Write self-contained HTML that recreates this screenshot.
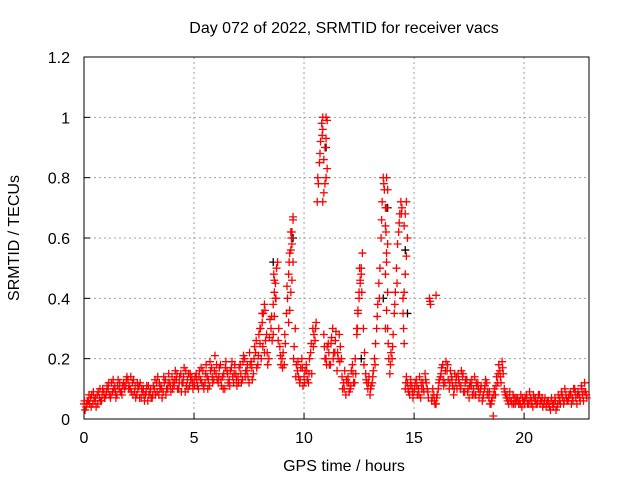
<!DOCTYPE html>
<html><head><meta charset="utf-8"><style>
body{margin:0;background:#fff}
svg{display:block;font-family:"Liberation Sans",sans-serif}
</style></head><body>
<svg id="chart" width="640" height="480">
<text x="344" y="33" font-size="16" text-anchor="middle">Day 072 of 2022, SRMTID for receiver vacs</text>
<g id="grid"></g>
<g id="axes"></g>
<g id="marks"></g>
<text x="344" y="471" font-size="16" text-anchor="middle">GPS time / hours</text>
<text transform="translate(19,238) rotate(-90)" font-size="16" text-anchor="middle">SRMTID / TECUs</text>
</svg>
<script>
const xTicks=[0,5,10,15,20];
const yTicks=[0,0.2,0.4,0.6,0.8,1,1.2];
const yTickLabels=["0","0.2","0.4","0.6","0.8","1","1.2"];
const sampleStep=0.1;
const valuesA=[0.05,0.04,0.06,0.07,0.05,0.06,0.08,0.07,0.06,0.09,
0.08,0.10,0.07,0.09,0.11,0.08,0.10,0.09,0.12,0.11,
0.13,0.10,0.12,0.09,0.08,0.11,0.07,0.10,0.08,0.06,
0.09,0.07,0.10,0.12,0.08,0.11,0.09,0.13,0.10,0.12,
0.14,0.11,0.13,0.10,0.15,0.12,0.09,0.13,0.11,0.14,
0.12,0.15,0.10,0.13,0.16,0.12,0.14,0.11,0.17,0.13,
0.15,0.12,0.18,0.14,0.10,0.16,0.13,0.17,0.12,0.15,
0.14,0.18,0.13,0.20,0.16,0.12,0.19,0.15,0.22,0.18,
0.25,0.32,0.22,0.28,0.20,0.30,0.38,0.45,0.52,0.24,
0.20,0.18,0.35,0.48,0.62,0.66,0.30,0.16,0.12,0.20,
0.14,0.18,0.12,0.22,0.30,0.26,0.72,0.85,0.98,0.28,
0.20,0.25,0.18,0.30,0.22,0.16,0.28,0.20,0.12,0.08,
0.14,0.10,0.18,0.12,0.28,0.40,0.48,0.30,0.15,0.10,
0.08,0.12,0.20,0.30,0.45,0.60,0.80,0.70,0.30,0.15,
0.20,0.35,0.50,0.62,0.72,0.40,0.10,0.12,0.08,0.11,
0.09,0.13,0.10,0.07,0.12,0.15,0.10,0.40,0.06,0.08,
0.05,0.10,0.14,0.18,0.12,0.16,0.10,0.14,0.08,0.12,
0.15,0.10,0.14,0.09,0.13,0.07,0.11,0.10,0.08,0.12,
0.09,0.06,0.10,0.12,0.07,0.05,0.01,0.08,0.12,0.16,
0.19,0.10,0.07,0.05,0.06,0.08,0.05,0.07,0.06,0.04,
0.06,0.08,0.05,0.07,0.04,0.06,0.05,0.08,0.06,0.05,
0.04,0.06,0.03,0.05,0.07,0.04,0.06,0.09,0.05,0.08,
0.06,0.09,0.07,0.10,0.05,0.08,0.11,0.06,0.09];
const valuesB=[0.03,0.06,0.05,0.08,0.07,0.04,0.09,0.06,0.10,0.07,
0.11,0.08,0.12,0.10,0.07,0.13,0.09,0.11,0.10,0.14,
0.11,0.09,0.13,0.07,0.10,0.12,0.09,0.06,0.11,0.08,
0.07,0.11,0.08,0.14,0.10,0.07,0.12,0.10,0.15,0.09,
0.12,0.16,0.10,0.14,0.12,0.17,0.11,0.15,0.13,0.10,
0.14,0.11,0.16,0.12,0.10,0.18,0.13,0.16,0.12,0.21,
0.13,0.17,0.11,0.15,0.19,0.12,0.16,0.14,0.18,0.11,
0.17,0.12,0.21,0.16,0.14,0.18,0.13,0.24,0.17,0.28,
0.20,0.35,0.26,0.18,0.33,0.26,0.42,0.50,0.30,0.18,
0.22,0.25,0.40,0.55,0.58,0.24,0.18,0.14,0.17,0.11,
0.16,0.13,0.20,0.15,0.28,0.32,0.78,0.92,1.00,0.20,
0.24,0.18,0.27,0.22,0.29,0.20,0.24,0.10,0.16,0.12,
0.09,0.16,0.12,0.15,0.35,0.45,0.55,0.22,0.12,0.14,
0.11,0.16,0.25,0.38,0.50,0.72,0.76,0.55,0.20,0.22,
0.28,0.42,0.58,0.68,0.70,0.25,0.14,0.09,0.13,0.07,
0.12,0.08,0.14,0.10,0.09,0.12,0.07,0.38,0.10,0.05,
0.08,0.13,0.17,0.11,0.19,0.13,0.16,0.11,0.15,0.10,
0.12,0.16,0.09,0.13,0.10,0.12,0.08,0.14,0.11,0.07,
0.11,0.08,0.13,0.09,0.05,0.07,0.10,0.14,0.18,0.12,
0.15,0.08,0.06,0.09,0.05,0.07,0.06,0.05,0.08,0.06,
0.07,0.05,0.09,0.06,0.07,0.05,0.08,0.06,0.04,0.07,
0.06,0.04,0.07,0.05,0.03,0.08,0.05,0.07,0.10,0.06,
0.08,0.05,0.10,0.07,0.09,0.06,0.08,0.12,0.07];
const valuesC=[0.06,0.05,0.08,0.04,0.09,0.07,0.05,0.10,0.08,0.07,
0.09,0.12,0.08,0.13,0.09,0.11,0.12,0.08,0.11,0.13,
0.10,0.14,0.08,0.11,0.12,0.07,0.10,0.08,0.09,0.11,
0.10,0.08,0.13,0.09,0.12,0.10,0.14,0.08,0.12,0.11,
0.10,0.13,0.15,0.12,0.09,0.14,0.16,0.10,0.15,0.12,
0.11,0.13,0.14,0.17,0.11,0.15,0.10,0.19,0.14,0.16,
0.18,0.14,0.13,0.10,0.17,0.15,0.11,0.19,0.15,0.13,
0.12,0.15,0.19,0.14,0.18,0.22,0.17,0.20,0.26,0.21,
0.30,0.24,0.36,0.22,0.27,0.34,0.48,0.40,0.26,0.21,
0.17,0.28,0.44,0.52,0.60,0.20,0.14,0.19,0.13,0.17,
0.12,0.16,0.15,0.25,0.24,0.30,0.80,0.88,0.94,0.24,
0.18,0.22,0.25,0.20,0.26,0.22,0.19,0.14,0.10,0.13,
0.12,0.11,0.15,0.20,0.30,0.50,0.42,0.18,0.13,0.12,
0.10,0.14,0.18,0.34,0.40,0.66,0.78,0.62,0.25,0.18,
0.24,0.38,0.45,0.65,0.68,0.30,0.12,0.10,0.11,0.09,
0.10,0.11,0.08,0.12,0.10,0.13,0.09,0.39,0.07,0.06,
0.07,0.12,0.15,0.13,0.16,0.18,0.12,0.13,0.10,0.14,
0.13,0.11,0.15,0.12,0.09,0.11,0.13,0.08,0.12,0.10,
0.10,0.07,0.11,0.08,0.09,0.06,0.08,0.11,0.15,0.14,
0.17,0.09,0.08,0.07,0.06,0.05,0.07,0.06,0.05,0.07,
0.05,0.07,0.06,0.05,0.08,0.07,0.06,0.05,0.07,0.06,
0.05,0.05,0.06,0.04,0.06,0.05,0.07,0.08,0.06,0.07,
0.07,0.08,0.06,0.09,0.08,0.07,0.10,0.09,0.08];
const peakTimes=[10.85,10.9,10.95,11.0,11.05,10.9,10.95,11.0,10.85,11.05,11.0,
13.7,13.75,13.8,13.7,13.75,13.8,13.7,13.75,13.8,13.75,
14.5,14.55,14.6,14.65,14.7,14.55,14.6,14.65,
9.3,9.35,9.4,9.45,9.5,9.4,9.45,9.5,
8.6,8.65,8.7,8.65,
12.4,12.45,12.5,12.55,12.6,
8.0,8.1,8.2,16.0];
const peakValues=[0.72,0.75,0.78,0.80,0.83,0.86,0.90,0.93,0.96,0.99,1.0,
0.30,0.36,0.42,0.48,0.52,0.58,0.64,0.70,0.76,0.80,
0.35,0.42,0.48,0.54,0.60,0.64,0.68,0.72,
0.32,0.36,0.42,0.46,0.52,0.56,0.62,0.67,
0.28,0.34,0.40,0.46,
0.30,0.36,0.42,0.46,0.50,
0.30,0.35,0.38,0.41];
const blackTimes=[8.6,9.5,11.0,13.8,14.6,14.7,13.6,12.6];
const blackValues=[0.52,0.60,0.90,0.70,0.56,0.35,0.40,0.20];

const X0=84,X1=589,Y0=419,Y1=57,XMAX=22.95,YMAX=1.2;
const xs=v=>X0+(v/XMAX)*(X1-X0);
const ys=v=>Y0-(v/YMAX)*(Y0-Y1);
const NS="http://www.w3.org/2000/svg";
const grid=document.getElementById('grid'),axes=document.getElementById('axes'),marks=document.getElementById('marks');
function mk(tag,attrs,parent){const e=document.createElementNS(NS,tag);for(const k in attrs)e.setAttribute(k,attrs[k]);parent.appendChild(e);return e;}
xTicks.forEach(t=>{
  const x=xs(t);
  if(t>0){const g=mk('line',{x1:x,x2:x,y1:Y0,y2:Y1,stroke:'#a0a0a0','stroke-dasharray':'2,3'},grid);
  
  }
  const tk=mk('line',{x1:x,x2:x,y1:Y0,y2:Y0-6,stroke:'#000'},axes);
  
  
  const lb=mk('text',{x:x,y:Y0+24,'font-size':16,'text-anchor':'middle'},axes);lb.textContent=t;
  
  
});
yTicks.forEach((t,i)=>{
  const y=ys(t);
  if(t>0&&t<YMAX){const g=mk('line',{x1:X0,x2:X1,y1:y,y2:y,stroke:'#a0a0a0','stroke-dasharray':'2,3'},grid);
  
  }
  const tk=mk('line',{x1:X0,x2:X0+6,y1:y,y2:y,stroke:'#000'},axes);
  
  
  const lb=mk('text',{x:X0-14,y:y+6,'font-size':16,'text-anchor':'end'},axes);lb.textContent=yTickLabels[i];
  
  
});
const frame=mk('rect',{x:X0,y:Y1,width:X1-X0,height:Y0-Y1,fill:'none',stroke:'#000'},axes);


function plus(t,v,color){
  const x=xs(t),y=ys(v);
  const p=mk('path',{d:`M${x-4},${y}h8M${x},${y-4}v8`,stroke:color,'stroke-width':1.3,fill:'none'},marks);
  
  
}
blackTimes.forEach((t,i)=>plus(t,blackValues[i],'#000'));
valuesA.forEach((v,i)=>plus(i*sampleStep,v,'#f00'));
valuesB.forEach((v,i)=>plus(i*sampleStep+sampleStep/2,v,'#f00'));
valuesC.forEach((v,i)=>plus(i*sampleStep+sampleStep/4,v,'#f00'));
peakTimes.forEach((t,i)=>plus(t,peakValues[i],'#f00'));
</script>
</body></html>
